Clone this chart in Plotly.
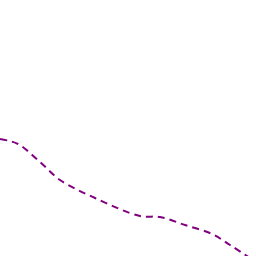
import plotly.graph_objects as go

x_vals = [0, 18, 40, 60, 95, 140, 160, 185, 212, 230, 250]
y_vals = [117, 112, 94, 76, 58, 40, 39, 31, 22, 11, -2]

fig = go.Figure(go.Scatter(x=x_vals, y=y_vals, mode="lines",
                           line=dict(color="#800080", width=2, dash="7px,5px", shape="spline")))
fig.update_layout(width=256, height=256, margin=dict(l=0, r=0, t=0, b=0),
                  paper_bgcolor="white", plot_bgcolor="white", showlegend=False)
fig.update_xaxes(visible=False, range=[0, 256])
fig.update_yaxes(visible=False, range=[0, 256])
fig.write_html("out.html")
